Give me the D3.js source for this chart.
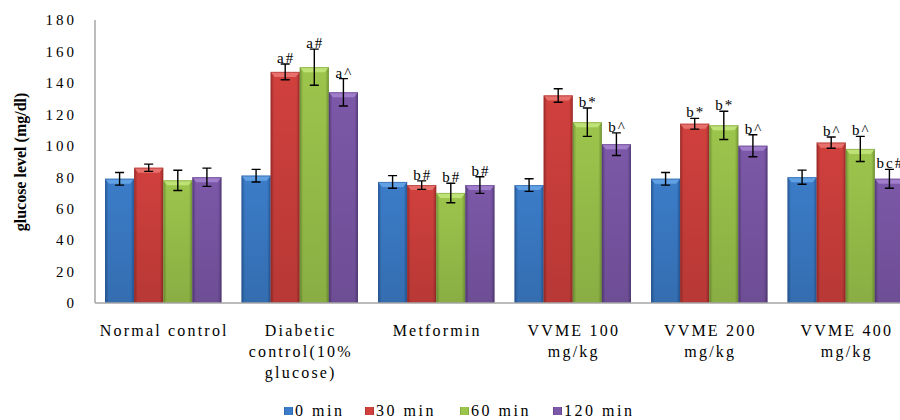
<!DOCTYPE html>
<html>
<head>
<meta charset="utf-8">
<script src="https://cdn.jsdelivr.net/npm/d3@7"></script>
<style>
  html, body { margin: 0; padding: 0; background: #ffffff; }
  svg { display: block; }
  text { font-family: "Liberation Serif", "DejaVu Serif", serif; fill: #000; }
</style>
</head>
<body>
<svg id="chart" width="900" height="420"></svg>
<script>
// Blood glucose (mg/dl) per treatment group, sampled at four time points
const categories = [
  "Normal control",
  "Diabetic control(10% glucose)",
  "Metformin",
  "VVME 100 mg/kg",
  "VVME 200 mg/kg",
  "VVME 400 mg/kg"
];
const categoryLines = [
  ["Normal control"],
  ["Diabetic", "control(10%", "glucose)"],
  ["Metformin"],
  ["VVME 100", "mg/kg"],
  ["VVME 200", "mg/kg"],
  ["VVME 400", "mg/kg"]
];
const seriesNames = ["0 min", "30 min", "60 min", "120 min"];

const min0   = [79, 81, 77, 75, 79, 80];
const min30  = [86, 147, 75, 132, 114, 102];
const min60  = [78, 150, 70, 115, 113, 98];
const min120 = [80, 134, 75, 101, 100, 79];

// standard error of each mean
const err0   = [4, 4, 4, 4, 4, 4.5];
const err30  = [2.3, 5, 2.7, 4.3, 3.4, 3.6];
const err60  = [6.4, 11.5, 6.2, 9, 9, 8];
const err120 = [5.8, 8.7, 5.3, 7.2, 7, 6];

// significance markers
const sig0   = ["", "", "", "", "", ""];
const sig30  = ["", "a#", "b#", "", "b*", "b^"];
const sig60  = ["", "a#", "b#", "b*", "b*", "b^"];
const sig120 = ["", "a^", "b#", "b^", "b^", "bc#"];

const yTicks = [0, 20, 40, 60, 80, 100, 120, 140, 160, 180];

const series = [
  { name: seriesNames[0], values: min0,   errors: err0,   sig: sig0 },
  { name: seriesNames[1], values: min30,  errors: err30,  sig: sig30 },
  { name: seriesNames[2], values: min60,  errors: err60,  sig: sig60 },
  { name: seriesNames[3], values: min120, errors: err120, sig: sig120 }
];

// base, light and dark tones for the bevelled bars
const palette = [
  { base: "#3b7cc8", light: "#62a0e4", dark: "#285a99" },
  { base: "#d0403d", light: "#e8706c", dark: "#9c2c2a" },
  { base: "#9cc54c", light: "#bfe276", dark: "#739536" },
  { base: "#7c58a8", light: "#a07ecb", dark: "#573c7c" }
];

const svg = d3.select("#chart");
const margin = { left: 95, top: 20, bottom: 303, right: 914 };

const x0 = d3.scaleBand()
  .domain(categories)
  .range([margin.left, margin.right])
  .paddingInner(0.147)
  .paddingOuter(0.0735);
const x1 = d3.scaleBand()
  .domain(seriesNames)
  .range([0, x0.bandwidth()])
  .padding(0);
const y = d3.scaleLinear().domain([0, 180]).range([margin.bottom, margin.top]);

// gradients
const defs = svg.append("defs");
palette.forEach((p, i) => {
  const g = defs.append("linearGradient")
    .attr("id", "grad" + i).attr("x1", "0").attr("x2", "1").attr("y1", "0").attr("y2", "0");
  g.append("stop").attr("offset", "0%").attr("stop-color", p.dark);
  g.append("stop").attr("offset", "12%").attr("stop-color", p.base);
  g.append("stop").attr("offset", "50%").attr("stop-color", p.base);
  g.append("stop").attr("offset", "88%").attr("stop-color", p.base);
  g.append("stop").attr("offset", "100%").attr("stop-color", p.dark);
  const v = defs.append("linearGradient")
    .attr("id", "shade" + i).attr("x1", "0").attr("x2", "0").attr("y1", "0").attr("y2", "1");
  v.append("stop").attr("offset", "0%").attr("stop-color", "#000").attr("stop-opacity", 0);
  v.append("stop").attr("offset", "100%").attr("stop-color", "#000").attr("stop-opacity", 0.12);
});

// y axis tick labels
const yAxis = d3.axisLeft(y).tickValues(yTicks).tickSize(0).tickPadding(18);
const yg = svg.append("g").attr("transform", `translate(${margin.left},0)`).call(yAxis);
yg.select(".domain").remove();
yg.selectAll("text")
  .style("font-family", "'Liberation Serif', serif")
  .style("font-size", "15px")
  .style("letter-spacing", "3px")
  .attr("fill", "#000");

// axis title
svg.append("text")
  .attr("transform", `translate(26,162) rotate(-90)`)
  .attr("text-anchor", "middle")
  .style("font-size", "16px")
  .style("font-weight", "bold")
  .text("glucose level (mg/dl)");

// bars
const groups = svg.append("g").selectAll("g")
  .data(categories)
  .join("g")
  .attr("transform", d => `translate(${x0(d)},0)`);

series.forEach((s, si) => {
  const bw = x1.bandwidth();
  groups.each(function(cat, ci) {
    const g = d3.select(this);
    const v = s.values[ci];
    const bx = x1(s.name);
    const top = y(v);
    const h = y(0) - top;
    g.append("rect")
      .attr("x", bx).attr("y", top).attr("width", bw).attr("height", h)
      .attr("fill", `url(#grad${si})`);
    g.append("rect")
      .attr("x", bx).attr("y", top).attr("width", bw).attr("height", h)
      .attr("fill", `url(#shade${si})`);
    // bevelled top cap
    g.append("path")
      .attr("d", `M${bx},${top} L${bx + bw},${top} L${bx + bw - 4},${top + 5} L${bx + 4},${top + 5} Z`)
      .attr("fill", palette[si].light);
    g.append("rect")
      .attr("x", bx + 0.5).attr("y", top + 0.5).attr("width", bw - 1).attr("height", h - 1)
      .attr("fill", "none").attr("stroke", palette[si].dark).attr("stroke-opacity", 0.5);
  });
});

// error bars and significance labels
series.forEach((s, si) => {
  groups.each(function(cat, ci) {
    const g = d3.select(this);
    const cx = x1(s.name) + x1.bandwidth() / 2;
    const v = s.values[ci], e = s.errors[ci];
    const hi = y(v + e), lo = y(v - e);
    const cap = 4.5;
    g.append("path")
      .attr("d", `M${cx},${hi} L${cx},${lo} M${cx - cap},${hi} L${cx + cap},${hi} M${cx - cap},${lo} L${cx + cap},${lo}`)
      .attr("stroke", "#000").attr("stroke-width", 1.4).attr("fill", "none");
    if (s.sig[ci]) {
      g.append("text")
        .attr("x", cx + 1).attr("y", hi - 1)
        .attr("text-anchor", "middle")
        .style("font-size", "15px")
        .style("letter-spacing", "2px")
        .text(s.sig[ci]);
    }
  });
});

// axis lines
svg.append("line")
  .attr("x1", margin.left).attr("x2", margin.left)
  .attr("y1", margin.top).attr("y2", y(0))
  .attr("stroke", "#a6a6a6").attr("stroke-width", 1.5);
svg.append("line")
  .attr("x1", margin.left).attr("x2", 900)
  .attr("y1", y(0)).attr("y2", y(0))
  .attr("stroke", "#a6a6a6").attr("stroke-width", 1.5);

// category labels
categories.forEach((c, ci) => {
  const cx = x0(c) + x0.bandwidth() / 2 + 1;
  const t = svg.append("text")
    .attr("x", cx)
    .attr("y", 336)
    .attr("text-anchor", "middle")
    .style("font-size", "16px")
    .style("letter-spacing", "2.2px");
  categoryLines[ci].forEach((line, li) => {
    t.append("tspan")
      .attr("x", cx)
      .attr("dy", li === 0 ? 0 : 21)
      .text(line);
  });
});

// legend
const legendX = [284, 365, 460, 553];
const legend = svg.append("g");
series.forEach((s, si) => {
  const lg = legend.append("g").attr("transform", `translate(${legendX[si]},407)`);
  lg.append("rect").attr("x", 0).attr("y", 0).attr("width", 9).attr("height", 8)
    .attr("fill", `url(#grad${si})`);
  lg.append("text").attr("x", 11).attr("y", 9)
    .style("font-size", "16px")
    .style("letter-spacing", "2.5px")
    .text(s.name);
});
</script>
</body>
</html>
